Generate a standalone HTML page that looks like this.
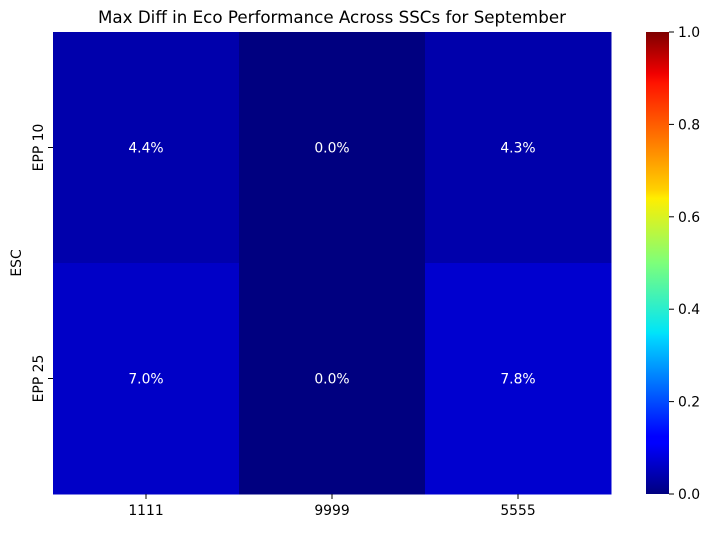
<!DOCTYPE html>
<html><head><meta charset="utf-8"><style>
body{margin:0;background:#fff;}
svg text{font-family:"DejaVu Sans","Liberation Sans",sans-serif;}
</style></head><body>
<svg width="710" height="528" xmlns="http://www.w3.org/2000/svg">
<defs>
<linearGradient id="jet" x1="0" y1="1" x2="0" y2="0">
<stop offset="0" stop-color="#00007f"/>
<stop offset="0.11" stop-color="#0000ff"/>
<stop offset="0.125" stop-color="#0000ff"/>
<stop offset="0.34" stop-color="#00d8ff"/>
<stop offset="0.35" stop-color="#00e5f8"/>
<stop offset="0.5" stop-color="#7dff7a"/>
<stop offset="0.64" stop-color="#ffee00"/>
<stop offset="0.66" stop-color="#ffd000"/>
<stop offset="0.89" stop-color="#ff1300"/>
<stop offset="0.91" stop-color="#f00000"/>
<stop offset="1" stop-color="#7f0000"/>
</linearGradient>
</defs>
<text x="332" y="23" text-anchor="middle" font-size="16.7" fill="#000">Max Diff in Eco Performance Across SSCs for September</text>
<g id="cells"></g>
<g id="axes"></g>
<rect x="646" y="32" width="23" height="462" fill="url(#jet)"/>
<g id="cbar"></g>
<text transform="translate(21,263) rotate(-90)" text-anchor="middle" font-size="13.9">ESC</text>
</svg>
<script>
const xCats=["1111","9999","5555"];
const yCats=["EPP 10","EPP 25"];
const vals=[[0.044,0.0,0.043],[0.070,0.0,0.078]];
const labels=[["4.4%","0.0%","4.3%"],["7.0%","0.0%","7.8%"]];
const cbTicks=[0,0.2,0.4,0.6,0.8,1.0];
const NS="http://www.w3.org/2000/svg";
const L=53,R=611,T=32,B=494;
const FS=13.9;
const cw=(R-L)/xCats.length,ch=(B-T)/yCats.length;
function jetB(v){let b=v<0.125?0.5+4*v:1;return "rgb(0,0,"+Math.round(b*255)+")";}
const cells=document.getElementById('cells'),axes=document.getElementById('axes'),cbar=document.getElementById('cbar');
function mk(t,a,p){const e=document.createElementNS(NS,t);for(const k in a)e.setAttribute(k,a[k]);p.appendChild(e);return e;}
yCats.forEach((yc,i)=>{xCats.forEach((xc,j)=>{
 const r=mk('rect',{x:L+j*cw,y:T+i*ch,width:cw+0.5,height:ch+0.5,fill:jetB(vals[i][j])},cells);
 
 
 const t=mk('text',{x:L+(j+0.5)*cw,y:T+(i+0.5)*ch+5,'text-anchor':'middle','font-size':FS,fill:'#fff'},cells);
 t.textContent=labels[i][j];
 
 
});});
xCats.forEach((c,j)=>{const x=L+(j+0.5)*cw;
 mk('line',{x1:x,y1:B,x2:x,y2:B+5,stroke:'#000'},axes);
 const t=mk('text',{x:x,y:B+21,'text-anchor':'middle','font-size':FS},axes);t.textContent=c;
 
 
});
yCats.forEach((c,i)=>{const y=T+(i+0.5)*ch;
 mk('line',{x1:L-5,y1:y,x2:L,y2:y,stroke:'#000'},axes);
 const t=mk('text',{transform:'translate('+(L-10)+','+y+') rotate(-90)','text-anchor':'middle','font-size':FS},axes);t.textContent=c;
 
 
});
cbTicks.forEach(v=>{const y=B-v*(B-T);
 mk('line',{x1:669,y1:y,x2:674,y2:y,stroke:'#000'},cbar);
 const t=mk('text',{x:678,y:y+5,'font-size':FS},cbar);t.textContent=v.toFixed(1);
 
 
});
</script>
</body></html>
